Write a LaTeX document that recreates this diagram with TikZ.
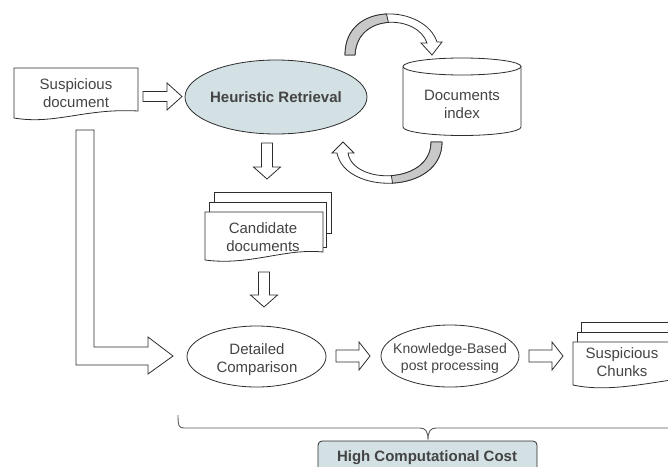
\documentclass[tikz,border=0pt]{standalone}
\usepackage{fontspec}
\setmainfont{Liberation Sans}
\usetikzlibrary{shapes.geometric,calc}
\definecolor{fillblue}{RGB}{211,224,228}
\definecolor{txt}{RGB}{68,68,68}
\definecolor{edge}{RGB}{45,45,45}
\definecolor{bandgray}{RGB}{200,200,200}
\definecolor{bracegray}{RGB}{90,90,90}
\begin{document}
\begin{tikzpicture}[x=1pt,y=-1pt,
  outl/.style={draw=edge, line width=0.8pt, line join=miter},
  lbl/.style={text=txt, font=\fontsize{15}{18}\selectfont, align=center, inner sep=0pt},
  lblb/.style={lbl, font=\bfseries\fontsize{15}{18}\selectfont},
  lbls/.style={lbl, font=\fontsize{14}{17}\selectfont},
  barrow/.style={outl, fill=white},
  oval/.style={outl, ellipse, inner sep=0pt, fill=white},
  bracestyle/.style={draw=bracegray, line width=0.9pt}
]
\clip (0,0) rectangle (668,466);

% ---------- Suspicious document ----------
\draw[outl, fill=white] (14,68) -- (138,68) -- (138,111)
  .. controls (85,108) and (55,125) .. (14,118) -- cycle;
\node[lbl, anchor=north] (sd) at (76,78) {Suspicious\\document};

% block arrow document -> retrieval
\draw[barrow] (143,91.5) -- (167,91.5) -- (167,83) -- (182,96.5) -- (167,110)
  -- (167,101.5) -- (143,101.5) -- cycle;

% ---------- Heuristic Retrieval ----------
\node[oval, fill=fillblue, minimum width=182, minimum height=74] (hr) at (276,97) {};
\node[lblb] (hrt) at (hr.center) {Heuristic Retrieval};

% ---------- Documents index (cylinder) ----------
\draw[outl, fill=white] (403,66.5) -- (403,127)
  arc[start angle=180, end angle=360, x radius=59pt, y radius=8.5pt]
  -- (521,66.5)
  arc[start angle=0, end angle=180, x radius=59pt, y radius=8.5pt] -- cycle;
\draw[outl] (403,66.5) arc[start angle=180, end angle=360, x radius=59pt, y radius=8.5pt];
\node[lbl, anchor=north] (di) at (462,90) {Documents\\index};

% ---------- curved arrow: retrieval -> index ----------
\draw[outl, fill=white] (345,55) .. controls (345,0) and (425,5) .. (437,42)
  -- (442,42) -- (432,55) -- (421,43) -- (427,43)
  .. controls (418,15) and (357,12) .. (355,55) -- cycle;
\draw[outl, fill=bandgray] (345,55) .. controls (345,27.5) and (365,15) .. (386.5,14)
  -- (388.4,22.4) .. controls (371.75,23.5) and (356,33.5) .. (355,55) -- cycle;

% ---------- curved arrow: index -> retrieval ----------
\draw[outl, fill=white] (442,142) .. controls (442,195) and (345,195) .. (337,153)
  -- (332,153) -- (343,142) -- (354,153) -- (348,153)
  .. controls (353,185) and (431,185) .. (431,142) -- cycle;
\draw[outl, fill=bandgray] (442,142) .. controls (442,168.5) and (417.75,181.75) .. (392.5,183.1)
  -- (391.4,175.6) .. controls (411.5,174.25) and (431,163.5) .. (431,142) -- cycle;

% down arrow retrieval -> candidates
\draw[barrow] (261.5,143) -- (272.5,143) -- (272.5,167) -- (280.5,167) -- (267,179)
  -- (253.5,167) -- (261.5,167) -- cycle;

% ---------- Candidate documents ----------
\draw[outl, fill=white] (214,192) rectangle (331,233);
\draw[outl, fill=white] (209,202) rectangle (326,247);
\draw[outl, fill=white] (205,212) -- (323,212) -- (323,252)
  .. controls (285,248) and (250,266) .. (205,260) -- cycle;
\node[lbl, anchor=north] (cd) at (263,222) {Candidate\\documents};

% down arrow candidates -> comparison
\draw[barrow] (258.5,272) -- (269.5,272) -- (269.5,295) -- (277.5,295) -- (264,307)
  -- (250.5,295) -- (258.5,295) -- cycle;

% L-shaped arrow document -> comparison
\draw[barrow] (76,130) -- (94,130) -- (94,347) -- (148,347) -- (148,337) -- (173,356)
  -- (148,374) -- (148,365) -- (76,365) -- cycle;

% ---------- Detailed Comparison ----------
\node[oval, minimum width=139, minimum height=61] (dc) at (256.5,356.5) {};
\node[lbl, anchor=north] (dct) at (257,343) {Detailed\\Comparison};

% arrow comparison -> post processing
\draw[barrow] (336,350) -- (359,350) -- (359,342) -- (370,356) -- (359,370)
  -- (359,362) -- (336,362) -- cycle;

% ---------- Knowledge-Based post processing ----------
\node[oval, minimum width=138, minimum height=62] (kb) at (450,356) {};
\node[lbls, anchor=north] (kbt) at (450,343) {Knowledge-Based\\post processing};

% arrow post processing -> chunks
\draw[barrow] (529,350) -- (552,350) -- (552,342) -- (563,356) -- (552,370)
  -- (552,362) -- (529,362) -- cycle;

% ---------- Suspicious Chunks ----------
\draw[outl, fill=white] (581,322) rectangle (712,360);
\draw[outl, fill=white] (577,332) rectangle (706,372);
\draw[outl, fill=white] (573,342) -- (700,342) -- (700,376)
  .. controls (650,382) and (610,393) .. (573,385) -- cycle;
\node[lbl, anchor=north] (sc) at (622,347) {Suspicious\\Chunks};

% ---------- brace ----------
\draw[bracestyle] (178,415) .. controls (178,426) and (179,428) .. (184,428)
  -- (420,428) .. controls (426,428) and (428,432) .. (428,440)
  .. controls (428,432) and (430,428) .. (436,428) -- (672,428)
  .. controls (677,428) and (678,426) .. (678,415);

% ---------- High Computational Cost ----------
\draw[outl, fill=fillblue, rounded corners=4pt] (318,441) rectangle (537,482);
\node[lblb, anchor=base] (hcc) at (427,461.5) {High Computational Cost};
\end{tikzpicture}
\end{document}
